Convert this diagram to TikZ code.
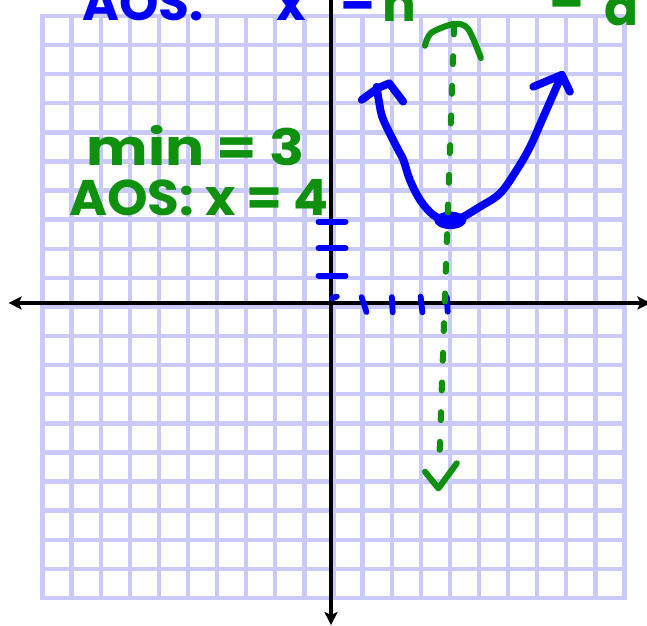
\documentclass[tikz,border=0pt]{standalone}
\usepackage{fontspec}
\newfontfamily\handfont{Poppins}
\usetikzlibrary{arrows.meta}
\definecolor{gridlav}{RGB}{202,202,250}
\definecolor{penblue}{RGB}{0,0,250}
\definecolor{pengreen}{RGB}{15,145,15}
\begin{document}
\begin{tikzpicture}[
	gridline/.style={gridlav, line width=0.15cm, line cap=rect},
	axisline/.style={black, line width=0.135cm,
		{Stealth[length=0.45cm,width=0.45cm,inset=0.1cm]}-{Stealth[length=0.45cm,width=0.45cm,inset=0.1cm]}},
	bluepen/.style={penblue, line width=0.27cm, line cap=round, line join=round},
	greenpen/.style={pengreen, line width=0.21cm, line cap=round, line join=round},
	tickmark/.style={penblue, line width=0.2cm, line cap=round},
	hand/.style={font=\handfont\bfseries\fontsize{49}{52}\selectfont, inner sep=0pt}]
	\useasboundingbox (-11.375,-11.10) rectangle (10.859,10.412);
	\clip (-11.375,-11.10) rectangle (10.859,10.412);
	
	\draw[gridline, shift={(0.086,-0.137)}] (-10,-10) grid (10,10);
	
	\coordinate (xleft) at (-11.08,0);
	\coordinate (xright) at (10.98,0);
	\coordinate (ybot) at (0,-11.07);
	\coordinate (ytop) at (0,10.98);
	\draw[axisline] (xleft) -- (xright);
	\draw[axisline] (ybot) -- (ytop);
	
	\foreach \ty in {0.94,1.89,2.79}
		\draw[tickmark] (-0.43,\ty) -- (0.5,\ty);
	\draw[tickmark] (0.03,0.16) -- (0.2,0.22);
	\draw[tickmark] (1.05,0.2) -- (1.22,-0.31);
	\draw[tickmark] (2.09,0.2) -- (2.12,-0.32);
	\draw[tickmark] (3.08,0.22) -- (3.14,-0.32);
	\draw[tickmark] (3.98,0.2) -- (4.01,-0.3);
	
	\draw[bluepen] plot[smooth, tension=0.6] coordinates {(1.57,7.43) (1.66,6.86) (1.80,6.29)
		(2.31,5.26) (2.49,4.91) (2.71,4.23) (3.06,3.54) (3.52,3.02) (3.98,2.85) (4.43,2.91)
		(5.12,3.31) (5.81,3.77) (6.38,4.57) (6.84,5.37) (7.30,6.40) (7.93,7.84)};
	\draw[bluepen] (1.055,6.98) -- (1.6,7.38) -- (2.0,7.55) -- (2.48,6.92);
	\draw[bluepen] (6.95,7.43) -- (7.93,7.84) -- (8.21,7.26);
	\fill[penblue] (4.1,2.84) ellipse [x radius=0.55, y radius=0.3];
	
	\draw[greenpen, dash pattern=on 0.27cm off 0.75cm] (4.23,9.5) -- (3.72,-5.5);
	\draw[greenpen] plot[smooth] coordinates {(3.23,8.84) (3.44,9.28) (4.23,9.59) (4.71,9.42) (5.15,8.42)};
	\draw[greenpen] (3.23,-5.80) -- (3.69,-6.37) -- (4.32,-5.51);
	
	\node[hand, pengreen, anchor=base west] (mintxt) at (-8.4,4.74) {\scalebox{1.16}[1]{min = 3}};
	\node[hand, pengreen, anchor=base west] (aostxt) at (-9.0,3.02) {\scalebox{1.03}[1]{AOS: x = 4}};
	
	\node[hand, penblue, anchor=base west] (aostop) at (-8.55,9.72) {AOS:};
	\node[hand, penblue, anchor=base] (xtop) at (-1.37,9.72) {x};
	\node[hand, penblue, anchor=base] (eqtop) at (0.93,9.85) {=};
	\node[hand, pengreen, anchor=base] (htop) at (2.34,9.68) {h};
	\node[hand, pengreen, anchor=base] (eqtopb) at (8.11,9.9) {=};
	\node[hand, pengreen, anchor=base] (atop) at (10.0,9.55) {a};
\end{tikzpicture}
\end{document}
